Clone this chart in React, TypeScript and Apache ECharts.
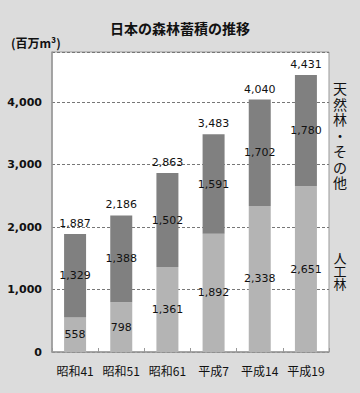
import React, { useEffect, useRef } from "react";
import * as echarts from "echarts";

const categories = ["昭和41", "昭和51", "昭和61", "平成7", "平成14", "平成19"];
const plantedValues = [558, 798, 1361, 1892, 2338, 2651];
const naturalValues = [1329, 1388, 1502, 1591, 1702, 1780];
const totalValues = [1887, 2186, 2863, 3483, 4040, 4431];
const naturalSideLabel = ["天", "然", "林", "・", "そ", "の", "他"];
const plantedSideLabel = ["人", "工", "林"];

const fmt = (v: number) => v.toLocaleString("en-US");
const numFont = "Verdana, 'DejaVu Sans', sans-serif";
const jpFont = "'Noto Sans CJK JP', sans-serif";

export default function App() {
  const ref = useRef<HTMLDivElement>(null);
  useEffect(() => {
    document.body.style.margin = "0";
    const chart = echarts.init(ref.current!, null, { renderer: "svg" });
    const sideText = (chars: string[], y0: number, step: number, size: number) =>
      chars.map((c, i) => ({
        type: "text",
        x: 340,
        y: y0 + i * step,
        style: {
          text: c,
          font: `${size}px ${jpFont}`,
          fill: "#111",
          align: "center",
          verticalAlign: "top",
        },
      }));
    chart.setOption({
      animation: false,
      backgroundColor: "#dcdcdc",
      title: {
        text: "日本の森林蓄積の推移",
        left: "center",
        top: 16,
        textStyle: { fontFamily: jpFont, fontSize: 14, fontWeight: "bold", color: "#111" },
      },
      graphic: [
        {
          type: "text",
          left: 11,
          top: 36,
          style: { text: "(百万m³)", font: `bold 12px ${jpFont}`, fill: "#111" },
        },
        ...sideText(naturalSideLabel, 81, 15.7, 14),
        ...sideText(plantedSideLabel, 251, 13, 13),
      ],
      grid: {
        left: 52,
        right: 31,
        top: 52,
        bottom: 41,
        show: true,
        backgroundColor: "#ffffff",
        borderColor: "#999",
        borderWidth: 1,
      },
      xAxis: {
        type: "category",
        data: categories,
        axisLine: { lineStyle: { color: "#999", width: 1.5 } },
        axisTick: { show: true, inside: true, length: 4, lineStyle: { color: "#999" } },
        axisLabel: { interval: 0, fontFamily: jpFont, fontSize: 12, color: "#111", margin: 12 },
      },
      yAxis: {
        type: "value",
        min: 0,
        max: 4800,
        interval: 1000,
        axisLine: { show: true, lineStyle: { color: "#999", width: 1.5 } },
        axisTick: { show: false },
        axisLabel: {
          formatter: (v: number) => (v > 4000 ? "" : fmt(v)),
          fontFamily: numFont,
          fontSize: 11,
          fontWeight: "bold",
          color: "#111",
          margin: 10,
        },
        splitLine: { lineStyle: { color: "#777", type: [3, 2], width: 1 } },
      },
      series: [
        {
          name: "人工林",
          type: "bar",
          stack: "a",
          barWidth: 22,
          data: plantedValues,
          itemStyle: { color: "#b4b4b4" },
          label: {
            show: true,
            position: "inside",
            formatter: (p: any) => fmt(p.value),
            fontFamily: numFont,
            fontSize: 11,
            color: "#111",
          },
        },
        {
          name: "天然林・その他",
          type: "bar",
          stack: "a",
          barWidth: 22,
          data: naturalValues,
          itemStyle: { color: "#808080" },
          label: {
            show: true,
            position: "inside",
            formatter: (p: any) => fmt(p.value),
            fontFamily: numFont,
            fontSize: 11,
            color: "#111",
          },
        },
        {
          name: "合計",
          type: "line",
          data: totalValues,
          symbol: "circle",
          symbolSize: 2,
          showSymbol: true,
          lineStyle: { opacity: 0 },
          itemStyle: { color: "rgba(0,0,0,0)" },
          label: {
            show: true,
            position: "top",
            distance: 4,
            formatter: (p: any) => fmt(p.value),
            fontFamily: numFont,
            fontSize: 11,
            color: "#111",
          },
        },
      ],
    });
    return () => chart.dispose();
  }, []);
  return (
    <div
      ref={ref}
      style={{ position: "fixed", left: 0, top: 0, width: 360, height: 393 }}
    />
  );
}
